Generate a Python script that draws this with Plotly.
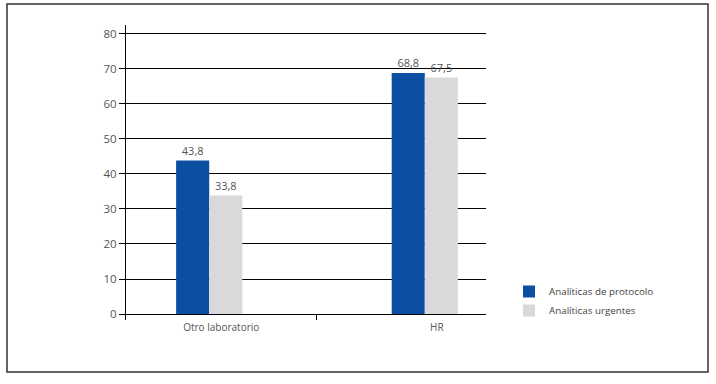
import plotly.graph_objects as go

categories = ["Otro laboratorio", "HR"]
series_names = ["Analíticas de protocolo", "Analíticas urgentes"]
protocolo = [43.8, 68.8]
urgentes = [33.8, 67.5]
y_ticks = [0, 10, 20, 30, 40, 50, 60, 70, 80]

colors = ["#0B4EA2", "#D9D9DB"]

def fmt(vals):
    return [f"{v:.1f}".replace(".", ",") for v in vals]

fig = go.Figure()
for name, vals, col in zip(series_names, [protocolo, urgentes], colors):
    fig.add_trace(go.Bar(
        x=categories, y=vals, name=name,
        marker=dict(color=col, line=dict(width=0)),
        text=fmt(vals), textposition="outside",
        textfont=dict(size=11, color="#555555"),
        cliponaxis=False,
    ))

W, H = 716, 384
L, R, T, B = 126, 230, 25, 64
pw = W - L - R
ph = H - T - B

def px_to_paper_x(px):
    return (px - L) / pw

def px_to_paper_y(py):
    return (H - B - py) / ph

fig.update_layout(
    width=W, height=H,
    margin=dict(l=L, r=R, t=T, b=B),
    paper_bgcolor="white", plot_bgcolor="white",
    font=dict(family="Open Sans", size=10, color="#555555"),
    barmode="group", bargap=0.693, bargroupgap=0,
    showlegend=True,
    legend=dict(
        x=px_to_paper_x(509), y=px_to_paper_y(277), xanchor="left", yanchor="top",
        font=dict(size=9.8, color="#444444"),
        bgcolor="rgba(0,0,0,0)", itemwidth=30, tracegroupgap=0,
    ),
    xaxis=dict(
        type="category", range=[-0.386, 1.284],
        showline=False, showgrid=False, zeroline=False,
        ticks="inside", ticklen=6, tickcolor="black", tickwidth=1,
        tickson="boundaries", ticklabelshift=12,
        tickfont=dict(size=10, color="#555555"),
        fixedrange=True,
    ),
    yaxis=dict(
        range=[-1.7, 82.5], tickvals=y_ticks,
        showline=True, linecolor="black", linewidth=1,
        showgrid=True, gridcolor="black", gridwidth=1,
        zeroline=True, zerolinecolor="black", zerolinewidth=1,
        ticks="outside", ticklen=6, tickcolor="black",
        tickfont=dict(size=11.5, color="#555555"),
        fixedrange=True,
    ),
)

fig.add_shape(
    type="rect", xref="paper", yref="paper",
    x0=px_to_paper_x(7), x1=px_to_paper_x(708),
    y0=px_to_paper_y(372), y1=px_to_paper_y(4),
    line=dict(color="#333333", width=1.5), fillcolor="rgba(0,0,0,0)",
    layer="below",
)

fig.write_html("out.html", config={"displayModeBar": False},
               post_script="document.body.style.margin='0';")
